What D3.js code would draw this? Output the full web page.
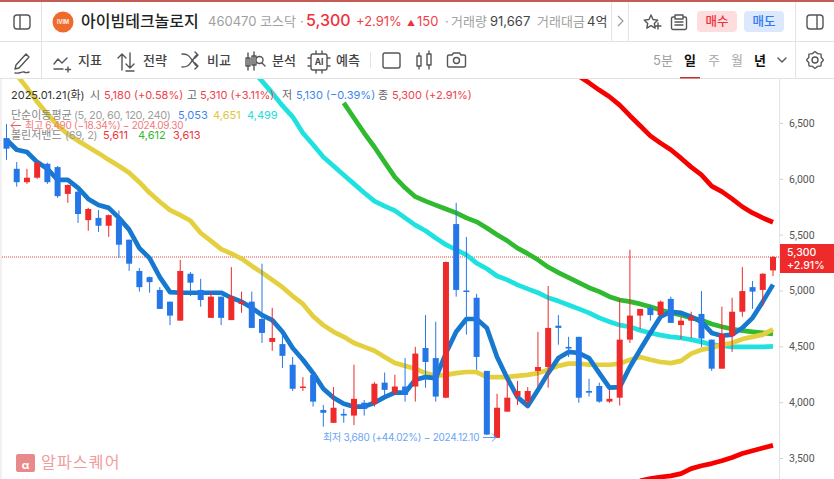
<!DOCTYPE html>
<html lang="ko"><head><meta charset="utf-8">
<script src="https://cdn.jsdelivr.net/npm/d3@7/dist/d3.min.js"></script>
<style>
html,body{margin:0;padding:0;background:#fff;overflow:hidden}
svg{display:block;font-family:Inter,"Noto Sans CJK KR",sans-serif}
.ax text{font-family:Roboto,sans-serif}
</style></head><body><svg id="c" width="834" height="479"></svg>
<script>
// ---- data ----
const priceTicks=[3500,4000,4500,5000,5500,6000,6500];
const opens=[6365,6090,5970,6010,6135,6105,5865,5885,5630,5650,5580,5640,5455,5175,5120,5005,4900,4730,5150,5005,4755,4945,4735,4880,4900,4745,4540,4520,4335,4130,4245,3930,3815,3895,3880,3995,3985,4175,4085,4140,4140,4485,4395,4040,5595,5000,4935,4280,3680,3915,4055,4005,4280,4315,4685,4495,4585,4100,4145,4005,4040,4560,4775,4845,4780,4925,4690,4730,4790,4560,4300,4595,4810,5030,5005,5180];
const highs=[6490,6150,6090,6150,6145,6115,5950,5900,5740,5720,5680,5715,5455,5200,5125,5030,4900,5275,5165,5105,4990,4945,5210,4990,4990,5240,4845,4600,4405,4225,4245,3975,4135,3940,4335,4020,4180,4265,4245,4395,4495,4780,4720,5260,5785,5480,4970,4280,4075,4200,4190,4135,4630,5040,4780,4585,4585,4210,4175,4110,4925,5365,4835,4870,4910,4945,4765,4810,4995,4560,4855,4935,5210,5085,5155,5310];
const lows=[6170,5930,5955,6000,5955,5830,5785,5605,5535,5525,5480,5290,5175,4990,4980,4835,4690,4730,4950,4855,4755,4690,4735,4800,4665,4530,4460,4305,4100,4100,3960,3780,3815,3815,3795,3880,3960,4050,4065,4005,4005,4130,4005,4035,4945,4605,4290,3705,3680,3915,3975,3960,4135,4130,4515,4405,3995,4050,3995,3995,3970,4530,4655,4730,4780,4710,4565,4575,4495,4280,4300,4450,4765,4835,4860,5130];
const closes=[6270,5970,6010,6145,5970,5845,5945,5685,5730,5580,5675,5410,5240,5030,5075,4835,4775,5175,5070,4915,4945,4755,4945,4900,4665,4620,4575,4415,4120,4140,4005,3905,3950,3880,4030,3940,4165,4110,4140,4065,4435,4360,4050,5255,5005,4990,4405,3710,3950,4040,4100,4100,4315,4665,4665,4480,4040,4085,4005,4030,4560,4775,4835,4780,4900,4710,4730,4765,4570,4300,4610,4810,4995,4990,5150,5300];
const ma5=[6350,6260,6240,6150,6090,5990,5990,5920,5820,5765,5740,5650,5545,5380,5290,5120,4985,4980,4980,4980,4980,4980,4935,4900,4845,4780,4735,4630,4485,4380,4260,4120,4040,3985,3960,3960,3995,4045,4085,4085,4200,4225,4215,4440,4630,4745,4745,4665,4405,4215,4045,3965,4110,4260,4395,4450,4440,4395,4260,4130,4135,4315,4470,4620,4765,4810,4800,4765,4720,4620,4595,4605,4665,4755,4900,5053];
const ma20=[7065,6930,6815,6690,6580,6480,6400,6340,6285,6230,6170,6115,6055,5970,5875,5795,5720,5675,5625,5515,5445,5370,5330,5285,5220,5160,5095,5030,4950,4880,4770,4690,4630,4585,4530,4495,4460,4405,4350,4325,4300,4260,4235,4245,4260,4270,4270,4225,4225,4225,4235,4245,4260,4290,4325,4345,4345,4335,4335,4335,4345,4380,4405,4380,4360,4350,4370,4435,4470,4485,4515,4530,4565,4585,4605,4651];
const ma60Start=24;
const ma60=[6975,6875,6770,6655,6555,6410,6305,6195,6115,6035,5955,5875,5800,5755,5715,5650,5585,5535,5470,5410,5365,5320,5245,5195,5130,5095,5050,5015,4980,4935,4905,4870,4835,4800,4755,4720,4690,4675,4645,4620,4600,4585,4575,4560,4540,4515,4505,4495,4495,4495,4495,4499];
const bbMidStart=33;
const bbMid=[6680,6545,6410,6285,6150,6015,5920,5840,5800,5765,5730,5695,5650,5615,5560,5500,5445,5380,5330,5275,5210,5160,5115,5070,5025,4990,4945,4915,4900,4880,4855,4825,4800,4780,4755,4735,4700,4675,4655,4640,4630,4620,4612];
const bbUpperStart=56;
const bbUpper=[6920,6860,6795,6735,6660,6565,6475,6385,6320,6260,6185,6105,6035,5935,5885,5820,5750,5695,5650,5611];
const bbLowerStart=62;
const bbLower=[3295,3315,3330,3340,3360,3405,3430,3450,3475,3505,3540,3565,3590,3613];
const lastPrice=5300;

// ---- chart ----
const RED="#ee2a2a",BLUE="#2577e8",LINE="#e3e3e3";
const svg=d3.select("#c");
const x=d3.scaleLinear().domain([0,opens.length-1]).range([6.5,773]);
const y=d3.scaleLinear().domain([3500,6500]).range([458,123]);
const defs=svg.append("defs");
defs.append("clipPath").attr("id","plot").append("rect").attr("x",2).attr("y",79).attr("width",777).attr("height",400);
defs.append("clipPath").attr("id","hdr").append("rect").attr("x",0).attr("y",0).attr("width",611).attr("height",41);

const plot=svg.append("g").attr("clip-path","url(#plot)");
plot.append("line").attr("x1",0).attr("x2",779).attr("y1",y(lastPrice)).attr("y2",y(lastPrice))
  .attr("stroke","#e0403f").attr("stroke-width",1).attr("stroke-dasharray","1 1");
const lineGen=start=>d3.line().x((d,i)=>x(i+start)).y(d=>y(d));
[[bbUpper,bbUpperStart,"#f60000"],[bbLower,bbLowerStart,"#f60000"],[bbMid,bbMidStart,"#2fba2f"],
 [ma60,ma60Start,"#1fe2e0"],[ma20,0,"#e4d03e"],[ma5,0,"#1679cf"]].forEach(([s,st,c])=>{
  plot.append("path").attr("d",lineGen(st)(s)).attr("fill","none").attr("stroke",c)
    .attr("stroke-width",4.7).attr("stroke-linejoin","round").attr("stroke-linecap","butt");
});
const cd=d3.range(opens.length).map(i=>({i,o:opens[i],h:highs[i],l:lows[i],c:closes[i]}));
const col=d=>d.c>=d.o?RED:BLUE;
const cg=plot.append("g");
cg.selectAll(".w").data(cd).join("line").attr("x1",d=>x(d.i)).attr("x2",d=>x(d.i))
  .attr("y1",d=>y(d.h)).attr("y2",d=>y(d.l)).attr("stroke",col).attr("stroke-width",1);
cg.selectAll(".b").data(cd).join("rect").attr("x",d=>x(d.i)-3).attr("width",6)
  .attr("y",d=>y(Math.max(d.o,d.c))).attr("height",d=>Math.max(1.5,Math.abs(y(d.o)-y(d.c)))).attr("fill",col);

// right price axis
const axis=d3.axisRight(y).tickValues(priceTicks).tickSize(4).tickPadding(6).tickFormat(d3.format(","));
const ax=svg.append("g").attr("class","ax").attr("transform","translate(779,0)").call(axis);
ax.select(".domain").remove();
ax.selectAll("line").attr("stroke","#cfcfcf");
ax.selectAll("text").attr("fill","#555").attr("font-size",10.5);
svg.append("line").attr("x1",779.5).attr("x2",779.5).attr("y1",79).attr("y2",479).attr("stroke",LINE);

// current price badge
svg.append("rect").attr("x",780).attr("y",y(lastPrice)-13).attr("width",54).attr("height",29).attr("fill",RED);
const T=(s,px,py,size,fill,extra={})=>{
  const t=svg.append("text").attr("x",px).attr("y",py).attr("font-size",size).attr("fill",fill).text(s);
  Object.entries(extra).forEach(([k,v])=>t.attr(k,v));return t;};
T(d3.format(",")(lastPrice),787,y(lastPrice)-1,10.5,"#fff",{"font-weight":500});
T("+2.91%",787,y(lastPrice)+12,10.5,"#fff",{"font-weight":500});

// frames
svg.append("rect").attr("width",834).attr("height",79).attr("fill","#fff").lower();
svg.append("line").attr("x1",0).attr("x2",834).attr("y1",1).attr("y2",1).attr("stroke","#b3261e").attr("stroke-width",1.5);
[[0,834,41.5,41.5],[0,834,78.5,78.5],[41.5,41.5,2,78],[611.5,611.5,2,41],[628.5,628.5,2,41],[795.5,795.5,2,78],[1,1,79,479]].forEach(l=>
  svg.append("line").attr("x1",l[0]).attr("x2",l[1]).attr("y1",l[2]).attr("y2",l[3]).attr("stroke",LINE));

// header row 1
svg.append("circle").attr("cx",63).attr("cy",22).attr("r",10.5).attr("fill","#ee6b2d");
T("IVIM",63,24,5.5,"#fff",{"text-anchor":"middle","font-weight":600});
T("아이빔테크놀로지",81,27,16,"#222",{"font-weight":500});
const h=svg.append("g").attr("clip-path","url(#hdr)");
const H=(s,px,size,fill,w)=>h.append("text").attr("x",px).attr("y",26).attr("font-size",size).attr("fill",fill).attr("font-weight",w||400).text(s);
H("460470",208,13,"#a0a0a0");H("코스닥",260,13,"#a0a0a0");H("·",300,13,"#a0a0a0");
H("5,300",306,16,"#f0313a",500);H("+2.91%",356,13,"#f0414a");H("▲",407,8,"#f0313a");H("150",417,13,"#f0414a");
H("·",445,13,"#a0a0a0");H("거래량",451,13,"#a0a0a0");H("91,667",490,13,"#444");
H("거래대금",537,13,"#a0a0a0");H("4억 7천",587,13,"#444");
svg.append("path").attr("d","M618 16l5 5-5 5").attr("fill","none").attr("stroke","#999").attr("stroke-width",1.2);
const ic=d=>svg.append("path").attr("d",d).attr("fill","none").attr("stroke","#555").attr("stroke-width",1.4).attr("stroke-linejoin","round").attr("stroke-linecap","round");
ic("M651 15l2 4.5 4.8.6-3.5 3.3.9 4.7-4.2-2.4-4.2 2.4.9-4.7-3.5-3.3 4.8-.6zM655 26h6M658 23v6");
ic("M674 17h-1a1.5 1.5 0 0 0-1.5 1.5V28a1.5 1.5 0 0 0 1.5 1.5h12a1.5 1.5 0 0 0 1.5-1.5V18.5a1.5 1.5 0 0 0-1.5-1.5h-1M675 15h8v4h-8zM675 22h8M675 25h8");
svg.append("rect").attr("x",697).attr("y",11).attr("width",40).attr("height",21).attr("rx",4).attr("fill","#fdddde");
svg.append("rect").attr("x",744).attr("y",11).attr("width",40).attr("height",21).attr("rx",4).attr("fill","#dce8fc");
T("매수",717,26,12.5,"#f0313a",{"text-anchor":"middle","font-weight":500});
T("매도",764,26,12.5,"#2f7bf0",{"text-anchor":"middle","font-weight":500});
ic("M17 15h10a3 3 0 0 1 3 3v8a3 3 0 0 1-3 3H17a3 3 0 0 1-3-3v-8a3 3 0 0 1 3-3zM20 15v14");
ic("M810 15h10a3 3 0 0 1 3 3v8a3 3 0 0 1-3 3h-10a3 3 0 0 1-3-3v-8a3 3 0 0 1 3-3zM817 15v14");

// header row 2
ic("M16 65l10-11 3 3-10 11-4 1zM15 73c5 1 7-2 9-1s3 1 5 0");
ic("M54 64l4-5 4 4 5-5M54 69h9M68 67v5M65.5 69.5h5");
T("지표",78,65,13,"#444",{"font-weight":500});
ic("M122 70V54M118 58l4-4 4 4M130 53v15M126 64l4 4 4-4M126 71h8");
T("전략",143,65,13,"#444",{"font-weight":500});
ic("M182 54c6 0 7 2 10 6s4 6 5 6h1M182 67c6 0 7-2 10-6s4-6 5-6h1M195 52l3 3-3 3M195 63l3 3-3 3");
T("비교",207,65,13,"#444",{"font-weight":500});
ic("M248 53v17M246 58h4v8h-4zM254 52v18M252 56h4v9h-4zM263 60a3.5 3.5 0 1 1-7 0a3.5 3.5 0 1 1 7 0M262 63l3 3");
T("분석",272,65,13,"#444",{"font-weight":500});
ic("M313 54h12a2 2 0 0 1 2 2v12a2 2 0 0 1-2 2h-12a2 2 0 0 1-2-2V56a2 2 0 0 1 2-2zM316 51v3M322 51v3M316 70v3M322 70v3M308 58h3M308 66h3M327 58h3M327 66h3");
T("AI",319,65,8.5,"#444",{"text-anchor":"middle","font-weight":700});
T("예측",336,65,13,"#444",{"font-weight":500});
svg.append("line").attr("x1",370.5).attr("x2",370.5).attr("y1",52).attr("y2",68).attr("stroke",LINE);
ic("M385 53h13a2 2 0 0 1 2 2v11a2 2 0 0 1-2 2h-13a2 2 0 0 1-2-2V55a2 2 0 0 1 2-2z");
ic("M417 56h4v10h-4zM419 53v3M419 66v3M427 54h4v11h-4zM429 51v3M429 65v4");
ic("M449 55h3l1.5-2h6l1.5 2h3a1.5 1.5 0 0 1 1.5 1.5v9a1.5 1.5 0 0 1-1.5 1.5h-15a1.5 1.5 0 0 1-1.5-1.5v-9a1.5 1.5 0 0 1 1.5-1.5zM459.5 60.5a3 3 0 1 1-6 0a3 3 0 1 1 6 0");
T("5분",653,65,13,"#a0a0a0");T("일",684,65,13,"#111",{"font-weight":700});
T("주",708,65,13,"#a8a8a8");T("월",731,65,13,"#a8a8a8");T("년",754,65,13,"#111",{"font-weight":700});
svg.append("rect").attr("x",680).attr("y",77).attr("width",20).attr("height",1.5).attr("fill","#c0322a");
ic("M778 58l4 4 4-4");
const gear=d3.lineRadial().curve(d3.curveCardinalClosed.tension(0.6));
const gearPts=d3.range(16).map(k=>[k*Math.PI/8,k%2?6.8:8.4]);
svg.append("path").attr("transform","translate(815,60)").attr("d",gear(gearPts)).attr("fill","none").attr("stroke","#555").attr("stroke-width",1.4);
ic("M818 60a3 3 0 1 1-6 0a3 3 0 1 1 6 0");

// legends
const L=(s,px,py,fill,o)=>T(s,px,py,11,fill,o);
L("2025.01.21(화)",11,99,"#333");L("시",90,99,"#666");L("5,180 (+0.58%)",104,99,"#f0414a");
L("고",187,99,"#666");L("5,310 (+3.11%)",200,99,"#f0414a");L("저",282,99,"#666");L("5,130 (−0.39%)",296,99,"#3d86ee");
L("종",378,99,"#666");L("5,300 (+2.91%)",392,99,"#f0414a");
L("단순이동평균",11,119,"#888");L("(5, 20, 60, 120, 240)",74,119,"#a0a0a0",{"letter-spacing":"-0.4px"});
L("5,053",178,119,"#3d86ee");L("4,651",213,119,"#e0c63a");L("4,499",247,119,"#25dcdc");
L("볼린저밴드",11,139,"#888");L("(69, 2)",65,139,"#a0a0a0",{"letter-spacing":"-0.3px"});
L("5,611",103,139,"#f0313a");L("4,612",138,139,"#2fba2f");L("3,613",173,139,"#f0313a");
T("최고 6,490 (−18.34%) − 2024.09.30",25,129,10,"#f27a7a",{"letter-spacing":"-0.3px"});
svg.append("path").attr("d","M21 125.5H11M15 121.5l-4 4 4 4").attr("fill","none").attr("stroke","#ee5555").attr("stroke-width",1);
T("최저 3,680 (+44.02%) − 2024.12.10",323,441,10,"#6aa5f2",{"letter-spacing":"-0.25px"});
svg.append("path").attr("d","M483 437.5h13M492 433.5l4 4-4 4").attr("fill","none").attr("stroke","#5a9cf0").attr("stroke-width",1);

// watermark
svg.append("rect").attr("x",16).attr("y",454).attr("width",19).attr("height",18).attr("rx",2).attr("fill","#e88a8a");
T("α",25.5,469,11,"#fff",{"text-anchor":"middle","font-weight":700});
T("알파스퀘어",41,468,16,"#ef9d9d",{"letter-spacing":"1.2px"});
</script></body></html>
